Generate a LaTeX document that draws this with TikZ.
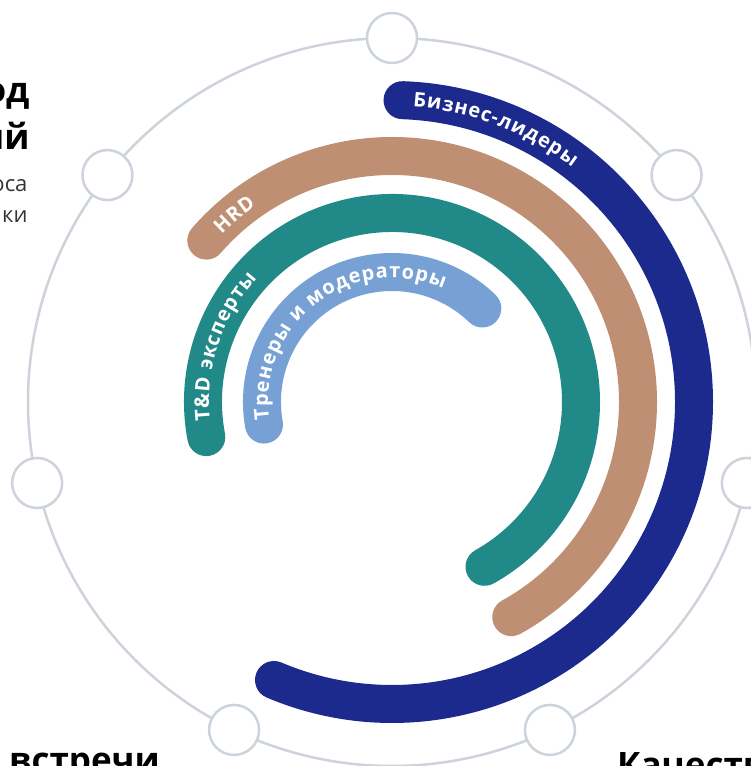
\documentclass[tikz,border=0pt]{standalone}
\usepackage{fontspec}
\setmainfont{Open Sans}
\definecolor{ringgray}{RGB}{204,211,219}
\definecolor{bizblue}{RGB}{27,42,140}
\definecolor{hrdbrown}{RGB}{190,143,115}
\definecolor{tdteal}{RGB}{33,137,135}
\definecolor{trainblue}{RGB}{119,160,212}
\newcommand{\bandfont}{\bfseries\fontsize{20}{24}\selectfont}
\newcommand{\letterskip}{0.5}
\newlength{\glyphwd}
\tikzset{dot/.style={circle, draw=ringgray, line width=2.5pt, fill=white, minimum size=50pt, inner sep=0pt}}
\tikzset{band/.style={line width=38pt, line cap=round}}
\tikzset{glyph/.style={text=white, font=\bandfont, anchor=base, inner sep=0pt}}
\tikzset{head/.style={font=\bfseries\fontsize{35}{40}\selectfont}}
\tikzset{sub/.style={font=\fontsize{22}{26}\selectfont, text=black!80}}
\newcommand{\arcword}[4]{%
    \xdef\curang{#2}%
    \foreach \ch in {#4} {%
        \path (c) node[glyph] (w) {\phantom{\ch}};%
        \pgfextractx{\glyphwd}{\pgfpointdiff{\pgfpointanchor{w}{west}}{\pgfpointanchor{w}{east}}}%
        \pgfmathsetmacro{\chw}{\glyphwd}%
        \pgfmathsetmacro{\chang}{\curang - deg(\chw/2/#1)}%
        \node[glyph, rotate=\chang-90] (#3) at ([shift={(\chang:#1)}] c) {\ch};%
        \pgfmathsetmacro{\nxang}{\curang - deg((\chw + \letterskip)/#1)}%
        \xdef\curang{\nxang}%
    }%
}

\begin{document}
\begin{tikzpicture}[x=1pt, y=1pt]
            \useasboundingbox (0, 0) rectangle (751, 766);
            \clip (0, 0) rectangle (751, 766);
            \coordinate (c) at (392, 364);
            \draw[ringgray, line width=2.5pt] (c) circle [radius = 364];
            \foreach \i in {0, ..., 6} {
                \node[dot] (d\i) at ([shift={(90 + \i*360/7 : 364)}] c) {};
            }
            \draw[band, bizblue] ([shift={(88:302)}] c) arc [start angle = 88, end angle = -113, radius = 302];
            \draw[band, hrdbrown] ([shift={(139:246)}] c) arc [start angle = 139, end angle = -61, radius = 246];
            \draw[band, tdteal] ([shift={(190.7:189)}] c) arc [start angle = 190.7, end angle = -60.7, radius = 189];
            \draw[band, trainblue] ([shift={(190:130)}] c) arc [start angle = 190, end angle = 46, radius = 130];
            \arcword{296}{86}{biz}{Б,и,з,н,е,с,-,л,и,д,е,р,ы}
            \arcword{239}{135.5}{hrd}{H,R,D}
            \arcword{183}{186}{td}{T,\&,D,\ ,э,к,с,п,е,р,т,ы}
            \arcword{124}{188}{trn}{Т,р,е,н,е,р,ы,\ ,и,\ ,м,о,д,е,р,а,т,о,р,ы}
            \node[head, anchor=base east] (h1) at (33, 663) {од};
            \node[head, anchor=base east] (h2) at (33, 616) {ий};
            \node[sub, anchor=base east] (s1) at (31, 574) {оса};
            \node[sub, anchor=base east] (s2) at (31, 543) {ки};
            \node[head, anchor=base west, inner sep=0pt] (b1) at (9, -6) {встречи};
            \node[head, anchor=base west, inner sep=0pt] (b2) at (617, -11) {Качество};
        \end{tikzpicture}
\end{document}
